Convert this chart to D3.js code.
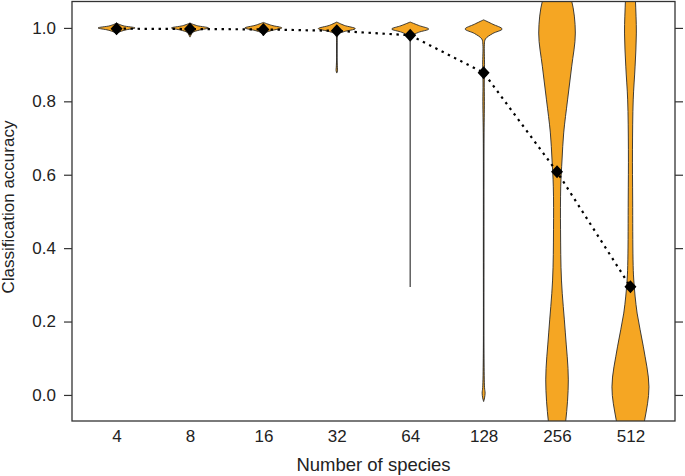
<!DOCTYPE html>
<html>
<head>
<meta charset="utf-8">
<script src="https://cdn.jsdelivr.net/npm/d3@7"></script>
<style>
  html, body { margin: 0; padding: 0; background: #fff; }
  svg { display: block; font-family: "Liberation Sans", Arial, Helvetica, sans-serif; }
</style>
</head>
<body>
<svg id="chart" width="685" height="476"></svg>
<script>
// Violin plot of classification accuracy vs. number of species, with the
// mean of each group marked by a black diamond and joined by a dotted line.

const species = ['4', '8', '16', '32', '64', '128', '256', '512'];
const meanAccuracy = [0.998, 0.997, 0.996, 0.992, 0.98, 0.878, 0.608, 0.295];
// lowest observed accuracy per group (whisker drawn from here up to the top)
const lowestAccuracy = [0.985, 0.978, 0.982, 0.88, 0.294, -0.012, -0.07, -0.07];
const yTicks = [0, 0.2, 0.4, 0.6, 0.8, 1.0];

// violin profiles: [accuracy, relative density]
const dens4 = [[1.013, 0], [1.006, 0.35], [1.0, 1], [0.994, 0.45], [0.988, 0.12], [0.982, 0]];
const dens8 = [[1.013, 0], [1.006, 0.4], [1.0, 1], [0.994, 0.5], [0.988, 0.15], [0.981, 0.06], [0.975, 0]];
const dens16 = [[1.015, 0], [1.007, 0.45], [1.0, 1], [0.993, 0.45], [0.987, 0.12], [0.982, 0.04], [0.978, 0]];
const dens32 = [[1.016, 0], [1.007, 0.4], [0.998, 1], [0.99, 0.4], [0.982, 0.06], [0.96, 0.015],
  [0.92, 0.008], [0.892, 0.03], [0.884, 0.04], [0.877, 0]];
const dens64 = [[1.016, 0], [1.006, 0.5], [0.997, 1], [0.988, 0.45], [0.978, 0.08], [0.97, 0]];
const dens128 = [[1.022, 0], [1.01, 0.5], [0.997, 1], [0.985, 0.5], [0.97, 0.1], [0.955, 0.04],
  [0.9, 0.05], [0.85, 0.03], [0.8, 0.04], [0.7, 0.015], [0.4, 0.01], [0.1, 0.015],
  [0.02, 0.05], [0.005, 0.08], [-0.008, 0.05], [-0.018, 0]];
const dens256 = [[1.14, 0.25], [1.076, 0.78], [0.986, 0.99], [0.894, 0.79], [0.804, 0.57],
  [0.714, 0.36], [0.64, 0.27], [0.567, 0.2], [0.45, 0.19], [0.313, 0.24], [0.169, 0.45],
  [0.041, 0.61], [-0.071, 0.47], [-0.14, 0.25]];
const dens512 = [[1.14, 0.22], [1.076, 0.27], [0.986, 0.32], [0.894, 0.25], [0.804, 0.15],
  [0.668, 0.11], [0.531, 0.12], [0.368, 0.14], [0.313, 0.18], [0.223, 0.36], [0.131, 0.7],
  [0.022, 1.0], [-0.068, 0.77], [-0.14, 0.45]];
const densities = [dens4, dens8, dens16, dens32, dens64, dens128, dens256, dens512];

const ORANGE = '#f5a623';
const INK = '#222';

const svg = d3.select('#chart');
const plot = { left: 72, right: 675, top: 1.5, bottom: 421 };

const x = d3.scalePoint().domain(species).range([plot.left, plot.right]).padding(0.607);
const y = d3.scaleLinear().domain([-0.071, 1.072]).range([plot.bottom, plot.top]);
const halfWidth = d3.scaleLinear().domain([0, 1]).range([0, 18.5]);

svg.append('clipPath').attr('id', 'clip')
  .append('rect')
  .attr('x', plot.left).attr('y', plot.top)
  .attr('width', plot.right - plot.left).attr('height', plot.bottom - plot.top);

const g = svg.append('g').attr('clip-path', 'url(#clip)');

// whisker lines sit under the violins
g.selectAll('line.whisker').data(species).join('line')
  .attr('class', 'whisker')
  .attr('x1', (d) => x(d)).attr('x2', (d) => x(d))
  .attr('y1', (d, i) => y(lowestAccuracy[i]))
  .attr('y2', () => y(0.99))
  .attr('stroke', '#555').attr('stroke-width', 1.4);

g.selectAll('path.violin').data(species).join('path')
  .attr('class', 'violin')
  .attr('d', (d, i) => d3.area()
    .y((p) => y(p[0]))
    .x0((p) => x(d) - halfWidth(p[1]))
    .x1((p) => x(d) + halfWidth(p[1]))
    .curve(d3.curveCatmullRom)(densities[i]))
  .attr('fill', ORANGE)
  .attr('stroke', '#2a2a2a')
  .attr('stroke-width', 0.9);

// dotted line through the means
g.append('path')
  .datum(species)
  .attr('d', d3.line().x((d) => x(d)).y((d, i) => y(meanAccuracy[i])))
  .attr('fill', 'none')
  .attr('stroke', '#000')
  .attr('stroke-width', 2.2)
  .attr('stroke-dasharray', '2.4,4.6');

g.selectAll('path.mean').data(species).join('path')
  .attr('class', 'mean')
  .attr('transform', (d, i) => `translate(${x(d)},${y(meanAccuracy[i])})`)
  .attr('d', 'M0,-6.5L6,0L0,6.5L-6,0Z')
  .attr('fill', '#000');

// frame
svg.append('rect')
  .attr('x', plot.left).attr('y', plot.top)
  .attr('width', plot.right - plot.left).attr('height', plot.bottom - plot.top)
  .attr('fill', 'none').attr('stroke', '#333').attr('stroke-width', 1.3);

// left axis with labels, right axis ticks only
const yAxisL = svg.append('g').attr('transform', `translate(${plot.left},0)`)
  .call(d3.axisLeft(y).tickValues(yTicks).tickSize(8).tickPadding(8).tickFormat(d3.format('.1f')));
const yAxisR = svg.append('g').attr('transform', `translate(${plot.right},0)`)
  .call(d3.axisRight(y).tickValues(yTicks).tickSize(8).tickFormat(''));
[yAxisL, yAxisR].forEach((a) => {
  a.select('.domain').remove();
  a.selectAll('line').attr('stroke', '#333').attr('stroke-width', 1.2);
});
yAxisL.selectAll('text').attr('fill', INK).style('font-size', '17px')
  .style('font-family', '"Liberation Sans", Arial, sans-serif');

const xAxis = svg.append('g').attr('transform', `translate(0,${plot.bottom})`)
  .call(d3.axisBottom(x).tickSize(0).tickPadding(9));
xAxis.select('.domain').remove();
xAxis.selectAll('text').attr('fill', INK).style('font-size', '17px')
  .style('font-family', '"Liberation Sans", Arial, sans-serif');

svg.append('text')
  .attr('x', (plot.left + plot.right) / 2).attr('y', 471)
  .attr('text-anchor', 'middle')
  .attr('fill', INK).style('font-size', '18.5px')
  .text('Number of species');

svg.append('text')
  .attr('transform', 'translate(14,207) rotate(-90)')
  .attr('text-anchor', 'middle')
  .attr('fill', INK).style('font-size', '17px')
  .text('Classification accuracy');
</script>
</body>
</html>
